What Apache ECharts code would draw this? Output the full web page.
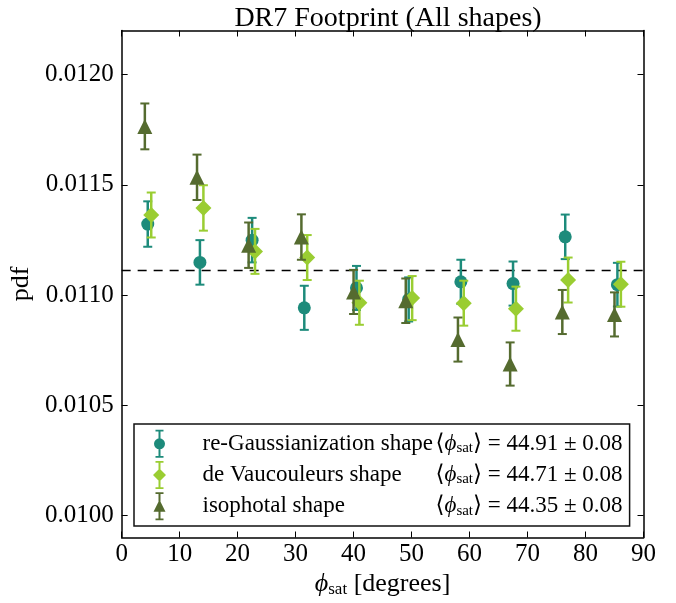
<!DOCTYPE html>
<html>
<head>
<meta charset="utf-8">
<script src="https://cdn.jsdelivr.net/npm/echarts@6/dist/echarts.min.js"></script>
<style>
html,body{margin:0;padding:0;background:#fff;}
#chart{width:676px;height:603px;}
</style>
</head>
<body>
<div id="chart"></div>
<script>
// ---------- data ----------
const seriesNames = ['re-Gaussianization shape', 'de Vaucouleurs shape', 'isophotal shape'];
const meanPhi = ['44.91', '44.71', '44.35'];
const meanPhiErr = ['0.08', '0.08', '0.08'];

const xReGauss = [4.5, 13.5, 22.5, 31.5, 40.5, 49.5, 58.5, 67.5, 76.5, 85.5];
const pdfReGauss = [0.011322, 0.011148, 0.011249, 0.010942, 0.011032, 0.010980, 0.011060, 0.011052, 0.011264, 0.011047];
const errReGauss = [0.000103, 0.000101, 0.000101, 0.000100, 0.000100, 0.000100, 0.000100, 0.000100, 0.000101, 0.000099];

const xDeVauc = [5.1, 14.1, 23.0, 32.0, 41.0, 50.1, 59.0, 68.0, 77.0, 86.1];
const pdfDeVauc = [0.011363, 0.011395, 0.011198, 0.011170, 0.010965, 0.010986, 0.010963, 0.010938, 0.011068, 0.011049];
const errDeVauc = [0.000102, 0.000103, 0.000102, 0.000102, 0.000100, 0.000100, 0.000102, 0.000100, 0.000102, 0.000102];

const xIso = [4.0, 13.0, 21.9, 31.0, 40.0, 49.0, 58.0, 67.0, 76.0, 85.0];
const pdfIso = [0.011765, 0.011534, 0.011226, 0.011263, 0.011014, 0.010974, 0.010798, 0.010687, 0.010923, 0.010912];
const errIso = [0.000104, 0.000103, 0.000103, 0.000103, 0.000100, 0.000101, 0.000100, 0.000098, 0.000100, 0.000100];

// uniform pdf reference (1/90)
const refLineX = [0, 90];
const refLineY = [0.011111, 0.011111];

const xTicks = [0, 10, 20, 30, 40, 50, 60, 70, 80, 90];
const yTicks = [0.0100, 0.0105, 0.0110, 0.0115, 0.0120];

// ---------- styles ----------
const FONT = '"Liberation Serif", "DejaVu Serif", serif';
const colors = ['#1d8b7b', '#9acd32', '#556b2f'];
const symbols = ['circle', 'diamond', 'triangle'];
const symbolSizes = [13, 16, 15];
const legendIcons = [
  'path://M4,0 L12,0 L12,1.8 L9,1.8 L9,26.2 L12,26.2 L12,28 L4,28 L4,26.2 L7,26.2 L7,1.8 L4,1.8 Z M13.5,14 A5.5,5.5 0 1,1 2.5,14 A5.5,5.5 0 1,1 13.5,14 Z',
  'path://M4,0 L12,0 L12,1.8 L9,1.8 L9,26.2 L12,26.2 L12,28 L4,28 L4,26.2 L7,26.2 L7,1.8 L4,1.8 Z M8,7.5 L14.5,14 L8,20.5 L1.5,14 Z',
  'path://M4,0 L12,0 L12,1.8 L9,1.8 L9,26.2 L12,26.2 L12,28 L4,28 L4,26.2 L7,26.2 L7,1.8 L4,1.8 Z M8,7.5 L14,19.5 L2,19.5 Z'
];

const groups = [
  { x: xReGauss, y: pdfReGauss, e: errReGauss },
  { x: xDeVauc, y: pdfDeVauc, e: errDeVauc },
  { x: xIso, y: pdfIso, e: errIso }
];

function renderErr(params, api) {
  const x = api.value(0), y = api.value(1), e = api.value(2);
  const top = api.coord([x, y + e]);
  const bot = api.coord([x, y - e]);
  const c = api.visual('color');
  const cap = 4.5;
  return {
    type: 'group',
    children: [
      { type: 'line', shape: { x1: top[0], y1: top[1], x2: bot[0], y2: bot[1] }, style: { stroke: c, lineWidth: 2.5 } },
      { type: 'line', shape: { x1: top[0] - cap, y1: top[1], x2: top[0] + cap, y2: top[1] }, style: { stroke: c, lineWidth: 2 } },
      { type: 'line', shape: { x1: bot[0] - cap, y1: bot[1], x2: bot[0] + cap, y2: bot[1] }, style: { stroke: c, lineWidth: 2 } }
    ]
  };
}

const series = [{
  type: 'line',
  name: 'uniform',
  data: refLineX.map((xv, k) => [xv, refLineY[k]]),
  symbol: 'none',
  silent: true,
  z: 1,
  lineStyle: { color: '#000', width: 1.5, type: [9, 7] }
}];

groups.forEach((g, i) => {
  const pts = g.x.map((xv, k) => [xv, g.y[k], g.e[k]]);
  series.push({
    type: 'custom',
    name: seriesNames[i],
    renderItem: renderErr,
    data: pts,
    encode: { x: 0, y: 1 },
    itemStyle: { color: colors[i] },
    z: 2 + i * 2,
    silent: true
  });
  series.push({
    type: 'scatter',
    name: seriesNames[i],
    data: pts.map(p => [p[0], p[1]]),
    symbol: symbols[i],
    symbolSize: symbolSizes[i],
    itemStyle: { color: colors[i], opacity: 1 },
    z: 3 + i * 2,
    silent: true
  });
});

const richText = {
  n: { fontFamily: FONT, fontSize: 23, color: '#000', width: 233, padding: [0, 0, 0, 30] },
  v: { fontFamily: FONT, fontSize: 23, color: '#000' },
  vi: { fontFamily: FONT, fontSize: 23, color: '#000', fontStyle: 'italic' },
  s: { fontFamily: FONT, fontSize: 15, color: '#000', padding: [9, 0, 0, 0] }
};

const axisCommon = {
  type: 'value',
  axisLine: { show: true, onZero: false, lineStyle: { color: '#000', width: 1.5 } },
  splitLine: { show: false }
};

const option = {
  animation: false,
  backgroundColor: '#fff',
  title: {
    text: 'DR7 Footprint (All shapes)',
    left: 383,
    textAlign: 'center',
    top: 0,
    textStyle: { fontFamily: FONT, fontSize: 28, fontWeight: 'normal', color: '#000' }
  },
  grid: { left: 118.5, right: 32.5, top: 30.5, bottom: 65.5, containLabel: false },
  xAxis: [
    Object.assign({}, axisCommon, {
      min: 0, max: 90, position: 'bottom',
      axisTick: { show: true, inside: true, length: 6, customValues: xTicks, lineStyle: { color: '#000', width: 1 } },
      axisLabel: { customValues: xTicks, margin: 4, fontFamily: FONT, fontSize: 25, color: '#000' },
      name: '{vi|ϕ}{s|sat}{v| [degrees]}',
      nameLocation: 'middle',
      nameGap: 28,
      nameTextStyle: { rich: { vi: { fontFamily: FONT, fontSize: 26, fontStyle: 'italic', color: '#000' }, s: { fontFamily: FONT, fontSize: 17, color: '#000', padding: [10, 0, 0, 0] }, v: { fontFamily: FONT, fontSize: 26, color: '#000' } } }
    }),
    Object.assign({}, axisCommon, {
      min: 0, max: 90, position: 'top',
      axisTick: { show: true, inside: true, length: 6, customValues: xTicks, lineStyle: { color: '#000', width: 1 } },
      axisLabel: { show: false }
    })
  ],
  yAxis: [
    Object.assign({}, axisCommon, {
      min: 0.0099, max: 0.0122, position: 'left',
      axisTick: { show: true, inside: true, length: 6, customValues: yTicks, lineStyle: { color: '#000', width: 1 } },
      axisLabel: { customValues: yTicks, margin: 8, fontFamily: FONT, fontSize: 25, color: '#000', formatter: v => v.toFixed(4) },
      name: 'pdf',
      nameLocation: 'middle',
      nameGap: 76,
      nameRotate: 90,
      nameTextStyle: { fontFamily: FONT, fontSize: 26, color: '#000' }
    }),
    Object.assign({}, axisCommon, {
      min: 0.0099, max: 0.0122, position: 'right',
      axisTick: { show: true, inside: true, length: 6, customValues: yTicks, lineStyle: { color: '#000', width: 1 } },
      axisLabel: { show: false }
    })
  ],
  legend: {
    orient: 'vertical',
    left: 134,
    top: 424,
    padding: [5.8, 7, 5.8, 19],
    itemWidth: 16,
    itemHeight: 28,
    itemGap: 3.2,
    selectedMode: false,
    backgroundColor: '#fff',
    borderColor: '#111',
    borderWidth: 1.5,
    borderRadius: 0,
    data: seriesNames.map((n, i) => ({ name: n, icon: legendIcons[i], itemStyle: { color: colors[i], borderWidth: 0 } })),
    formatter: function (name) {
      const i = seriesNames.indexOf(name);
      return '{n|' + name + '}{v|⟨}{vi|ϕ}{s|sat}{v|⟩ = ' + meanPhi[i] + ' ± ' + meanPhiErr[i] + '}';
    },
    textStyle: { rich: richText }
  },
  series: series
};

const chart = echarts.init(document.getElementById('chart'), null, { renderer: 'canvas' });
chart.setOption(option);
</script>
</body>
</html>
